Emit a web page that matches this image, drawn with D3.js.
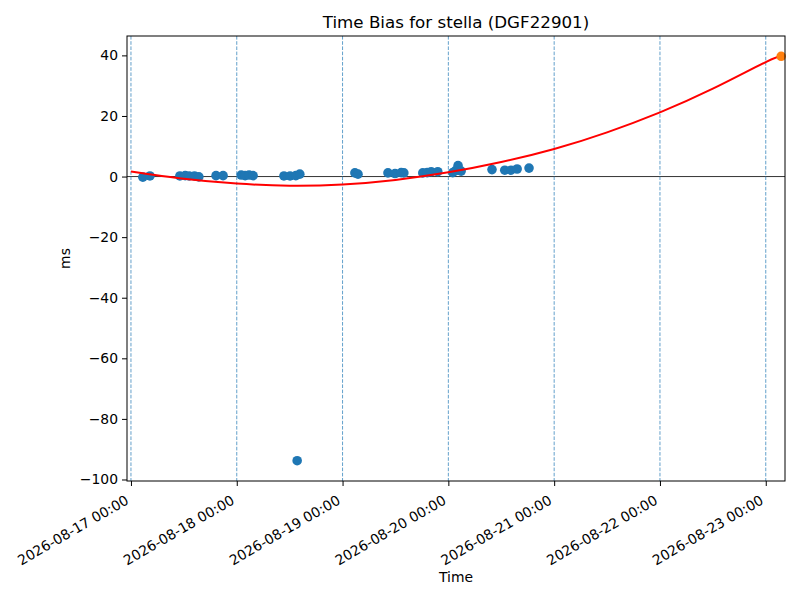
<!DOCTYPE html>
<html>
<head>
<meta charset="utf-8">
<script src="https://cdn.jsdelivr.net/npm/d3@7"></script>
<style>
  body { margin: 0; background: white; }
  text { font-family: "DejaVu Sans", sans-serif; }
</style>
</head>
<body>
<script>
// measured time bias samples (UTC)
var sampleTimes = [
  '2026-08-17T02:42', '2026-08-17T04:18', '2026-08-17T11:06', '2026-08-17T12:18',
  '2026-08-17T13:12', '2026-08-17T14:24', '2026-08-17T15:24', '2026-08-17T19:18',
  '2026-08-17T20:54', '2026-08-18T01:00', '2026-08-18T01:54', '2026-08-18T02:48',
  '2026-08-18T03:42', '2026-08-18T10:42', '2026-08-18T12:06', '2026-08-18T13:24',
  '2026-08-18T13:42', '2026-08-18T14:18', '2026-08-19T02:48', '2026-08-19T03:30',
  '2026-08-19T10:18', '2026-08-19T11:54', '2026-08-19T13:18', '2026-08-19T13:54',
  '2026-08-19T18:12', '2026-08-19T19:12', '2026-08-19T20:06', '2026-08-19T21:36',
  '2026-08-20T01:00', '2026-08-20T01:42', '2026-08-20T02:12', '2026-08-20T02:54',
  '2026-08-20T09:54', '2026-08-20T12:48', '2026-08-20T14:12', '2026-08-20T15:36',
  '2026-08-20T18:18'
];
var sampleBias = [
  -0.2, 0.2, 0.2, 0.3,
  0.2, 0.2, -0.1, 0.3,
  0.3, 0.5, 0.3, 0.5,
  0.3, 0.2, 0.2, 0.3,
  -93.8, 0.8, 1.2, 0.8,
  1.2, 1.0, 1.3, 1.2,
  1.2, 1.3, 1.6, 1.6,
  1.3, 2.0, 3.6, 1.8,
  2.3, 2.1, 2.1, 2.5,
  2.8
];

// fitted trend, every 12 hours
var fitTimes = [
  '2026-08-17T00:00', '2026-08-17T12:00', '2026-08-18T00:00', '2026-08-18T12:00',
  '2026-08-19T00:00', '2026-08-19T12:00', '2026-08-20T00:00', '2026-08-20T12:00',
  '2026-08-21T00:00', '2026-08-21T12:00', '2026-08-22T00:00', '2026-08-22T12:00',
  '2026-08-23T00:00', '2026-08-23T03:30'
];
var fitBias = [1.7, -0.7, -2.3, -3.0, -2.6, -1.1, 1.4, 4.8, 9.1, 14.6, 21.2, 29.0, 37.8, 39.7];

// predicted point
var predTime = '2026-08-23T03:30';
var predBias = 39.7;

var dayTicks = ['2026-08-17', '2026-08-18', '2026-08-19', '2026-08-20',
                '2026-08-21', '2026-08-22', '2026-08-23'];
var yTicks = [-100, -80, -60, -40, -20, 0, 20, 40];

var width = 800, height = 600;
var padLeft = 127, padRight = 785, padTop = 36, padBottom = 481;

var parse = d3.utcParse('%Y-%m-%dT%H:%M');
var parseDay = d3.utcParse('%Y-%m-%d');

var x = d3.scaleUtc()
  .domain([parse('2026-08-16T23:06'), parse('2026-08-23T04:22')])
  .range([padLeft, padRight]);

var y = d3.scaleLinear()
  .domain([-100.5, 46.4])
  .range([padBottom, padTop]);

var svg = d3.select('body')
  .append('svg')
  .attr('width', width)
  .attr('height', height);

svg.append('rect')
  .attr('width', width)
  .attr('height', height)
  .attr('fill', 'white');

var plot = svg.append('g');

// zero line
plot.append('line')
  .attr('x1', padLeft)
  .attr('x2', padRight)
  .attr('y1', y(0))
  .attr('y2', y(0))
  .attr('stroke', 'black')
  .attr('stroke-width', 0.8);

// day markers
plot.selectAll('line.day')
  .data(dayTicks)
  .enter().append('line')
    .attr('class', 'day')
    .attr('x1', function (d) { return x(parseDay(d)); })
    .attr('x2', function (d) { return x(parseDay(d)); })
    .attr('y1', padTop)
    .attr('y2', padBottom)
    .attr('stroke', '#1f77b4')
    .attr('stroke-width', 0.7)
    .attr('stroke-dasharray', '3.6,1.6');

plot.selectAll('circle.sample')
  .data(sampleTimes)
  .enter().append('circle')
    .attr('class', 'sample')
    .attr('r', 4.8)
    .attr('cx', function (d) { return x(parse(d)); })
    .attr('cy', function (d, i) { return y(sampleBias[i]); })
    .attr('fill', '#1f77b4');

var line = d3.line()
  .x(function (d) { return x(parse(d)); })
  .y(function (d, i) { return y(fitBias[i]); })
  .curve(d3.curveNatural);

plot.append('path')
  .attr('d', line(fitTimes))
  .attr('fill', 'none')
  .attr('stroke', 'red')
  .attr('stroke-width', 2);

plot.append('circle')
  .attr('r', 4.8)
  .attr('cx', x(parse(predTime)))
  .attr('cy', y(predBias))
  .attr('fill', '#ff7f0e');

// frame
svg.append('rect')
  .attr('x', padLeft)
  .attr('y', padTop)
  .attr('width', padRight - padLeft)
  .attr('height', padBottom - padTop)
  .attr('fill', 'none')
  .attr('stroke', 'black')
  .attr('stroke-width', 1);

// y axis
var yAxis = svg.append('g')
  .attr('transform', 'translate(' + padLeft + ',0)')
  .call(d3.axisLeft(y).tickValues(yTicks).tickSize(5).tickPadding(4)
    .tickFormat(function (d) { return d < 0 ? '\u2212' + Math.abs(d) : d; }));
yAxis.select('.domain').remove();
yAxis.selectAll('text')
  .attr('font-size', 13.9)
  .attr('font-family', 'DejaVu Sans')
  .attr('fill', 'black');

// x axis
var xAxis = svg.append('g')
  .attr('transform', 'translate(0,' + padBottom + ')')
  .call(d3.axisBottom(x).tickValues(dayTicks.map(parseDay)).tickSize(5)
    .tickFormat(d3.utcFormat('%Y-%m-%d %H:%M')));
xAxis.select('.domain').remove();
xAxis.selectAll('text')
  .attr('font-size', 13.9)
  .attr('font-family', 'DejaVu Sans')
  .attr('fill', 'black')
  .attr('text-anchor', 'end')
  .attr('y', 0)
  .attr('dy', '0.75em')
  .attr('transform', 'translate(-7,13) rotate(-30)');

svg.append('text')
  .attr('x', (padLeft + padRight) / 2)
  .attr('y', 28)
  .attr('text-anchor', 'middle')
  .attr('font-size', 16.7)
  .text('Time Bias for stella (DGF22901)');

svg.append('text')
  .attr('x', (padLeft + padRight) / 2)
  .attr('y', 582)
  .attr('text-anchor', 'middle')
  .attr('font-size', 13.9)
  .text('Time');

svg.append('text')
  .attr('transform', 'translate(70,' + (padTop + padBottom) / 2 + ') rotate(-90)')
  .attr('text-anchor', 'middle')
  .attr('font-size', 13.9)
  .text('ms');
</script>
</body>
</html>
